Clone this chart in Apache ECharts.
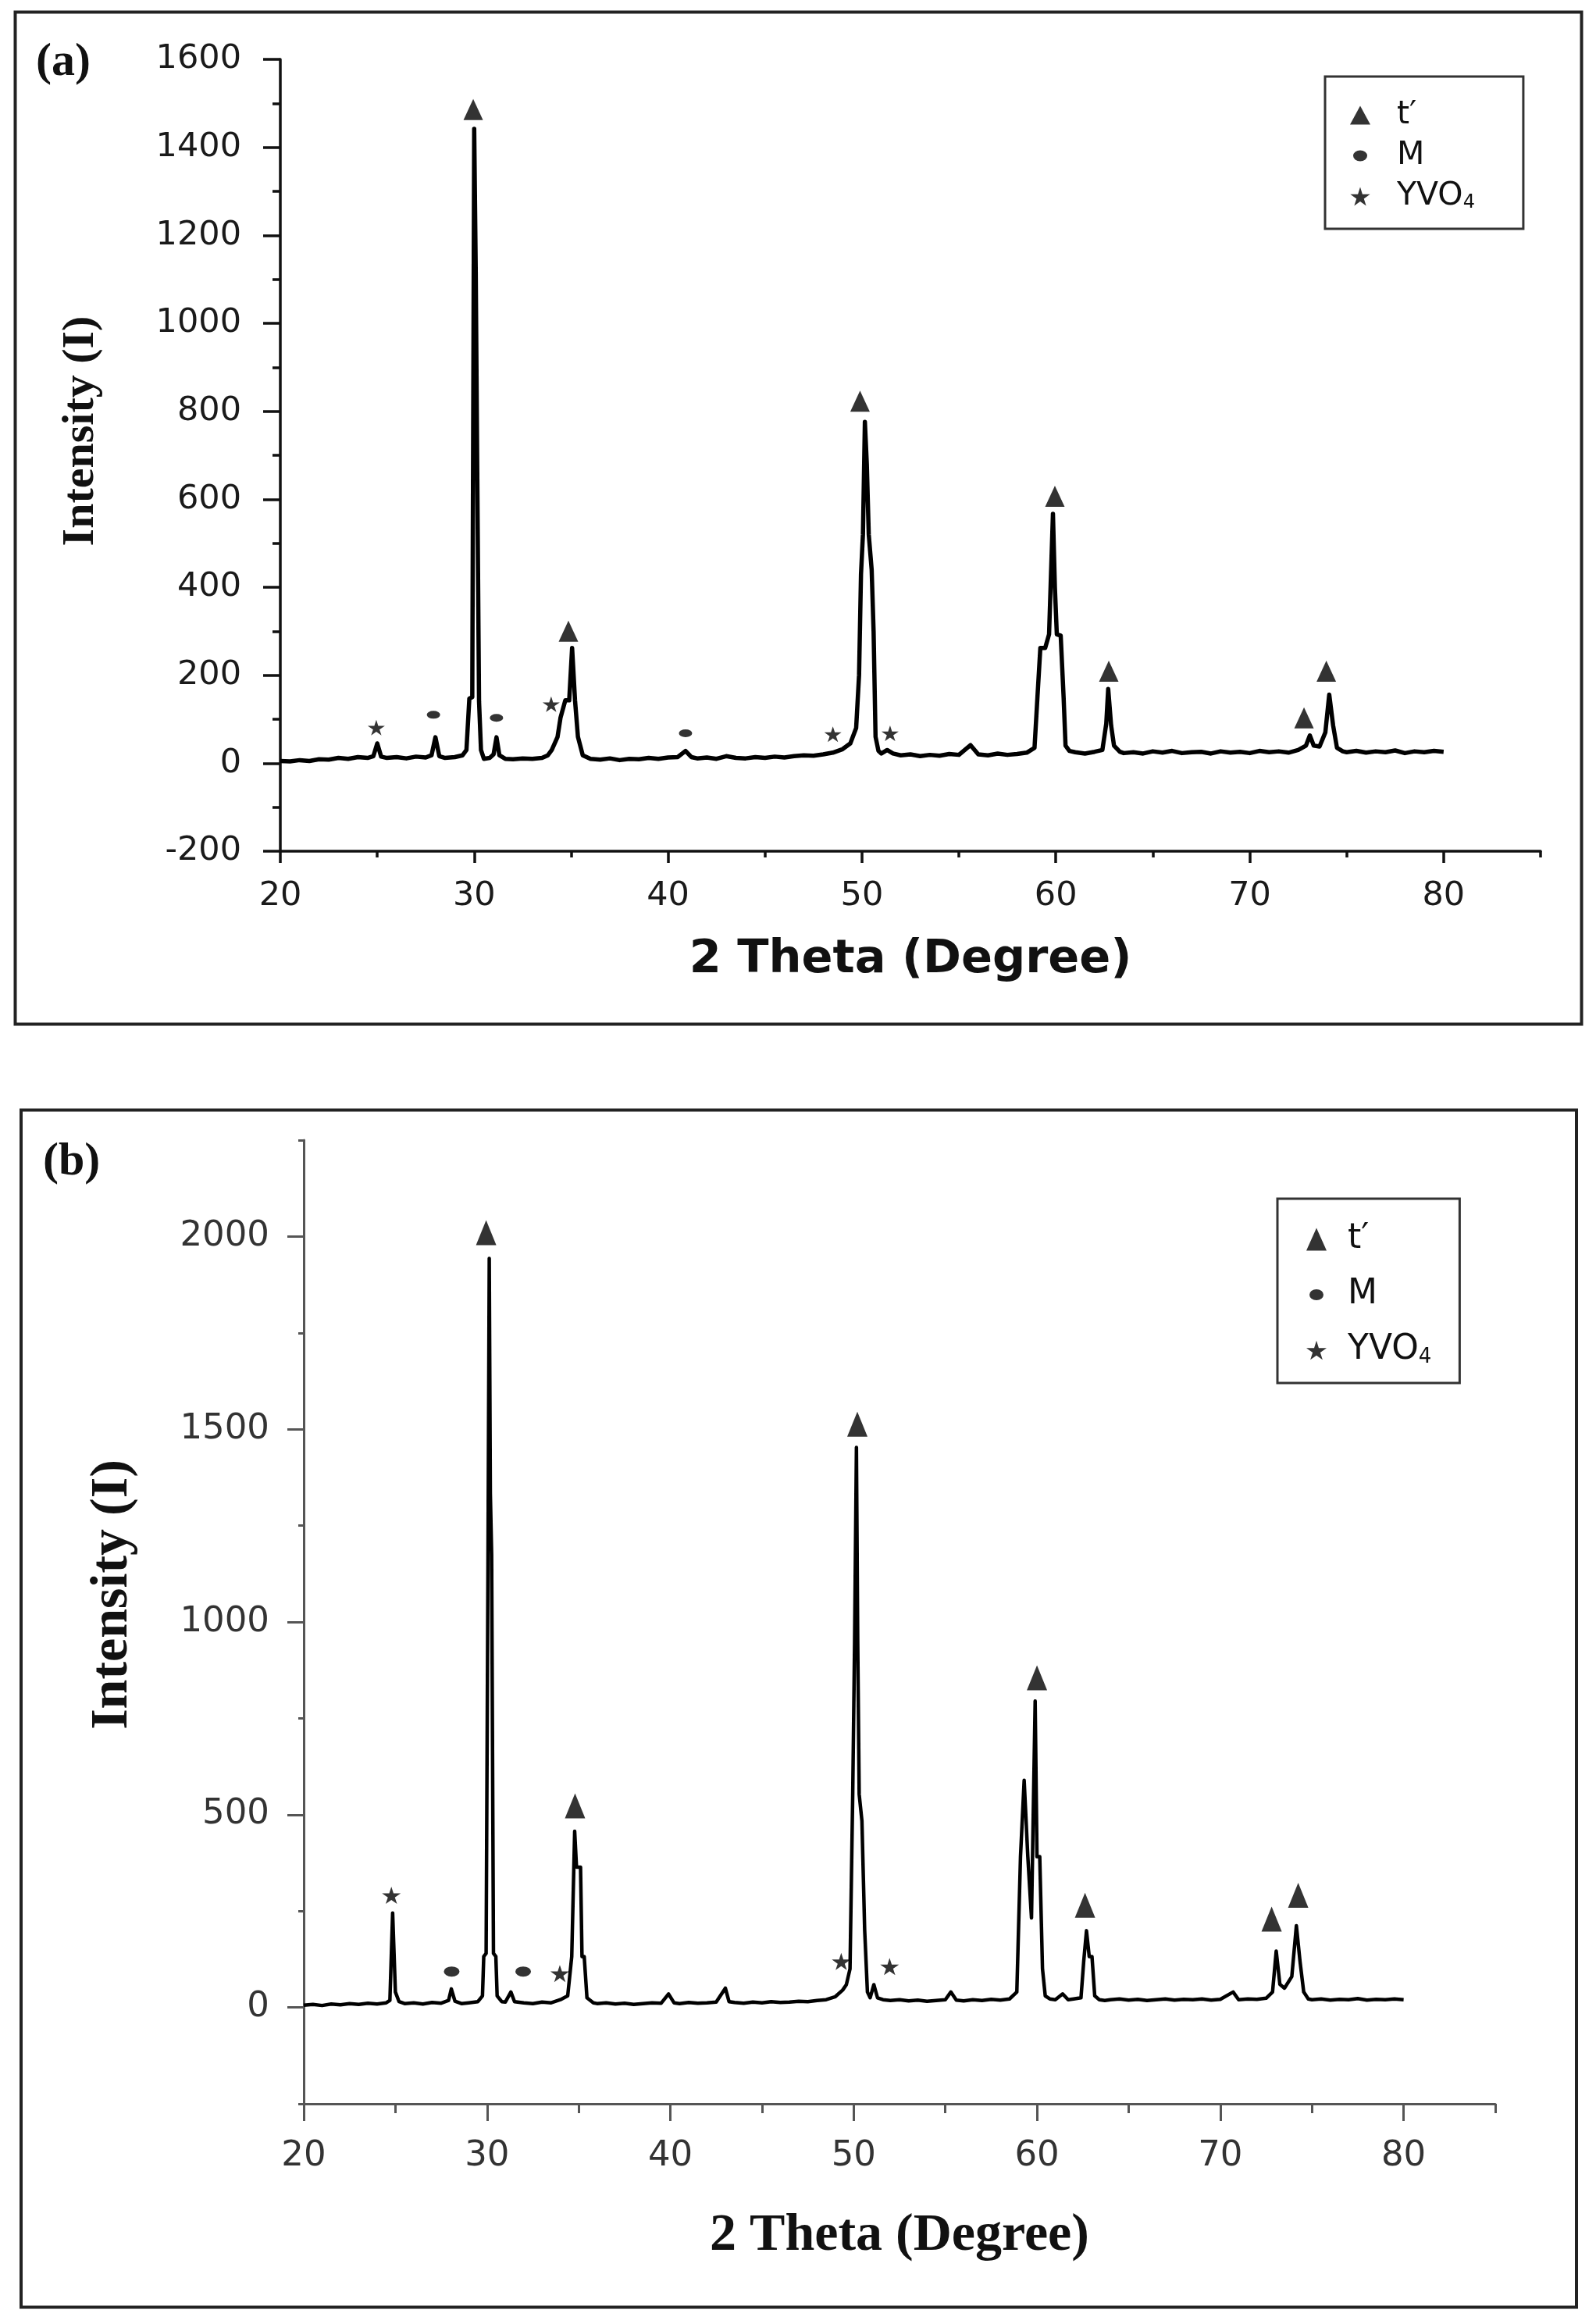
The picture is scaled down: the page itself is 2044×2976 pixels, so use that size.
<!DOCTYPE html>
<html><head><meta charset="utf-8">
<script src="https://cdn.jsdelivr.net/npm/echarts@6/dist/echarts.min.js"></script>
<style>html,body{margin:0;padding:0;background:#fff}#c{width:2044px;height:2976px}</style>
</head><body><div id="c"></div>
<script>
// ---------- Panel (a) data: [2θ, intensity] ----------
const patternA = [
[20.0,5],[20.5,4],[21.0,7],[21.5,5],[22.0,9],[22.5,8],[23.0,12],[23.5,10],[24.0,14],[24.5,12],
[24.8,16],[25.0,45],[25.2,15],[25.5,12],[26.0,14],[26.5,11],[27.0,15],[27.5,13],[27.8,18],[28.0,59],
[28.2,16],[28.5,12],[29.0,14],[29.4,18],[29.6,30],[29.75,147],[29.9,150],[30.0,1442],[30.08,1117],[30.15,704],
[30.25,140],[30.35,30],[30.5,10],[30.8,12],[31.0,20],[31.15,59],[31.3,18],[31.6,10],[32.0,9],[32.5,11],
[33.0,10],[33.5,12],[33.8,18],[34.0,30],[34.3,60],[34.45,103],[34.7,143],[34.9,143],[35.05,262],[35.2,143],
[35.35,60],[35.6,18],[36.0,10],[36.5,8],[37.0,11],[37.5,7],[38.0,10],[38.5,9],[39.0,12],[39.5,10],
[40.0,13],[40.5,14],[40.9,28],[41.2,14],[41.5,11],[42.0,13],[42.5,10],[43.0,16],[43.5,12],[44.0,11],
[44.5,14],[45.0,12],[45.5,15],[46.0,13],[46.5,16],[47.0,18],[47.5,17],[48.0,20],[48.5,24],[49.0,32],
[49.4,45],[49.7,80],[49.85,200],[49.95,430],[50.05,520],[50.15,776],[50.25,680],[50.35,520],[50.5,440],[50.6,300],
[50.7,60],[50.85,28],[51.0,22],[51.3,30],[51.6,22],[52.0,18],[52.5,20],[53.0,16],[53.5,19],[54.0,17],
[54.5,21],[55.0,19],[55.6,41],[56.0,20],[56.5,18],[57.0,22],[57.5,19],[58.0,21],[58.5,24],[58.9,35],
[59.05,150],[59.2,262],[59.45,262],[59.65,293],[59.85,567],[59.95,400],[60.05,293],[60.25,290],[60.4,150],[60.5,40],
[60.7,28],[61.0,25],[61.5,22],[62.0,26],[62.4,30],[62.6,90],[62.7,169],[62.85,86],[63.0,40],[63.3,26],
[63.5,23],[64.0,25],[64.5,22],[65.0,27],[65.5,24],[66.0,28],[66.5,23],[67.0,25],[67.5,26],[68.0,22],
[68.5,27],[69.0,24],[69.5,26],[70.0,23],[70.5,28],[71.0,25],[71.5,27],[72.0,24],[72.5,30],[72.9,40],
[73.1,63],[73.3,40],[73.6,38],[73.9,70],[74.1,156],[74.3,86],[74.5,35],[74.8,27],[75.0,25],[75.5,28],
[76.0,24],[76.5,27],[77.0,25],[77.5,29],[78.0,23],[78.5,27],[79.0,25],[79.5,28],[80.0,26]
];
const tPrimeA = [[29.95,1486],[34.86,300],[49.9,823],[59.95,607],[62.73,209],[72.8,103],[73.95,209]];
const monoA   = [[27.9,110],[31.15,103],[40.9,68]];
const yvoA    = [[24.95,81],[33.97,134],[48.5,66],[51.45,68]];

// ---------- Panel (b) data: [2θ, intensity] ----------
const patternB = [
[20.0,6],[20.5,8],[21.0,5],[21.5,9],[22.0,7],[22.5,10],[23.0,8],[23.5,11],[24.0,9],[24.5,12],
[24.7,18],[24.85,245],[25.0,40],[25.2,15],[25.5,10],[26.0,12],[26.5,9],[27.0,13],[27.5,11],[27.9,18],
[28.05,48],[28.25,16],[28.6,10],[29.0,12],[29.5,15],[29.75,30],[29.82,132],[29.95,140],[30.05,1150],[30.12,1943],
[30.18,1334],[30.25,1175],[30.35,140],[30.48,132],[30.55,30],[30.8,15],[31.0,14],[31.3,40],[31.5,15],[32.0,12],
[32.5,10],[33.0,14],[33.5,12],[34.0,20],[34.4,30],[34.62,132],[34.78,457],[34.88,364],[35.1,364],[35.18,132],
[35.3,132],[35.45,25],[35.8,12],[36.0,10],[36.5,12],[37.0,9],[37.5,11],[38.0,8],[38.5,10],[39.0,12],
[39.5,11],[39.9,35],[40.2,12],[40.5,10],[41.0,13],[41.5,11],[42.0,12],[42.5,14],[43.0,50],[43.2,15],
[43.5,13],[44.0,11],[44.5,14],[45.0,12],[45.5,15],[46.0,13],[46.5,14],[47.0,16],[47.5,15],[48.0,18],
[48.5,20],[49.0,28],[49.4,45],[49.6,59],[49.8,100],[49.95,560],[50.05,950],[50.15,1453],[50.22,950],[50.3,553],
[50.45,484],[50.6,200],[50.75,40],[50.9,25],[51.1,59],[51.3,25],[51.6,20],[52.0,18],[52.5,20],[53.0,17],
[53.5,19],[54.0,16],[54.5,18],[55.0,20],[55.3,40],[55.6,19],[56.0,17],[56.5,20],[57.0,18],[57.5,21],
[58.0,19],[58.5,22],[58.9,40],[59.1,391],[59.3,589],[59.5,391],[59.7,232],[59.9,795],[60.0,391],[60.15,391],
[60.3,100],[60.45,30],[60.7,22],[61.0,20],[61.4,35],[61.7,20],[62.0,22],[62.4,25],[62.55,120],[62.7,199],
[62.85,132],[63.0,132],[63.15,30],[63.4,20],[63.7,18],[64.0,20],[64.5,22],[65.0,19],[65.5,21],[66.0,18],
[66.5,20],[67.0,22],[67.5,19],[68.0,21],[68.5,20],[69.0,22],[69.5,19],[70.0,21],[70.7,40],[71.0,20],
[71.5,22],[72.0,21],[72.5,24],[72.85,40],[73.05,146],[73.25,60],[73.5,50],[73.9,80],[74.15,212],[74.35,119],
[74.55,40],[74.8,22],[75.0,20],[75.5,22],[76.0,19],[76.5,21],[77.0,20],[77.5,23],[78.0,19],[78.5,21],
[79.0,20],[79.5,22],[80.0,20]
];
const tPrimeB = [[29.95,2010],[34.8,523],[50.2,1513],[60.0,855],[62.62,265],[72.8,229],[74.25,291]];
const monoB   = [[28.07,93],[31.97,93]];
const yvoB    = [[24.78,291],[33.97,88],[49.32,119],[51.96,106]];

// ---------- Axis tick values ----------
const xMajorTicks = [20,30,40,50,60,70,80];
const xMinorTicks = [25,35,45,55,65,75,85];
const yLabelsB = [0,500,1000,1500,2000];
const yMinorB = [-250,250,750,1250,1750,2250];

const seriesNames = ['t′','M','YVO4'];

const STAR = 'path://M50,0 L61,35 L98,35 L68,57 L79,91 L50,70 L21,91 L32,57 L2,35 L39,35 Z';
const ELLIPSE = 'path://M0,5 A5,5 0 1 1 10,5 A5,5 0 1 1 0,5 Z';
const LEG_CIRCLE = 'path://M0,0 M26,24 M4,12 A9,7 0 1 1 22,12 A9,7 0 1 1 4,12 Z';

const INK = '#111';
const sans = 'DejaVu Sans';
const serif = 'Liberation Serif';
const plain = function (v) { return String(v); };

function legendFor(left, top, padding, fontSize, itemW, itemH, gap, textPad) {
  return {
    left: left, top: top, orient: 'vertical', selectedMode: false,
    padding: padding, itemGap: gap, itemWidth: itemW, itemHeight: itemH,
    borderColor: '#333', borderWidth: 3, backgroundColor: '#fff',
    data: [
      {name: seriesNames[0], icon: 'triangle'},
      {name: seriesNames[1], icon: LEG_CIRCLE},
      {name: seriesNames[2], icon: STAR}
    ],
    formatter: function (n) { return n === 'YVO4' ? '{n|YVO}{s|4}' : '{n|' + n + '}'; },
    textStyle: {
      color: INK, fontFamily: sans, fontSize: fontSize, padding: [0,0,0,textPad],
      rich: {
        n: {fontFamily: sans, fontSize: fontSize, color: INK},
        s: {fontFamily: sans, fontSize: Math.round(fontSize*0.58), color: INK, verticalAlign: 'bottom'}
      }
    },
    itemStyle: {color: '#000', borderWidth: 0}
  };
}

const chart = echarts.init(document.getElementById('c'), null, {renderer: 'canvas'});
const option = {
  animation: false,
  backgroundColor: '#fff',
  graphic: [
    {type: 'rect', shape: {x: 19.5, y: 15.5, width: 2006, height: 1296}, style: {fill: 'none', stroke: '#222', lineWidth: 4}, z: 0},
    {type: 'rect', shape: {x: 27, y: 1421.5, width: 1992, height: 1533}, style: {fill: 'none', stroke: '#222', lineWidth: 4}, z: 0},
    {type: 'text', left: 46, top: 50, style: {text: '(a)', font: 'bold 60px "Liberation Serif"', fill: INK}},
    {type: 'text', left: 55, top: 1458, style: {text: '(b)', font: 'bold 60px "Liberation Serif"', fill: INK}}
  ],
  legend: [
    legendFor(1697, 98, [29, 62, 21, 32], 41, 26, 24, 11, 29),
    legendFor(1636, 1535, [30, 36, 20, 37], 44, 26, 29, 27, 22)
  ],
  grid: [
    {left: 359, top: 76, width: 1614, height: 1014},
    {left: 389, top: 1460, width: 1526, height: 1234}
  ],
  xAxis: [
    {type: 'value', gridIndex: 0, position: 'bottom', min: 20, max: 85,
     name: '2 Theta (Degree)', nameLocation: 'middle', nameGap: 110,
     nameTextStyle: {fontFamily: sans, fontWeight: 'bold', fontSize: 59, color: INK},
     axisLine: {show: true, onZero: false, lineStyle: {color: INK, width: 3.5}},
     axisTick: {show: true, length: 15, lineStyle: {color: INK, width: 3.5}, customValues: xMajorTicks},
     axisLabel: {customValues: xMajorTicks, formatter: plain, margin: 36, fontFamily: sans, fontSize: 43, color: '#1a1a1a'},
     splitLine: {show: false}},
    {type: 'value', gridIndex: 0, position: 'bottom', offset: 0, min: 20, max: 85,
     axisLine: {show: false, onZero: false},
     axisTick: {show: true, length: 8, lineStyle: {color: INK, width: 3.5}, customValues: xMinorTicks},
     axisLabel: {show: false}, splitLine: {show: false}},
    {type: 'value', gridIndex: 1, position: 'bottom', min: 20, max: 85,
     name: '2 Theta (Degree)', nameLocation: 'middle', nameGap: 135,
     nameTextStyle: {fontFamily: serif, fontWeight: 'bold', fontSize: 68, color: INK},
     axisLine: {show: true, onZero: false, lineStyle: {color: '#555', width: 3}},
     axisTick: {show: true, length: 22, lineStyle: {color: '#555', width: 3}, customValues: xMajorTicks},
     axisLabel: {customValues: xMajorTicks, formatter: plain, margin: 45, fontFamily: sans, fontSize: 45, color: '#333'},
     splitLine: {show: false}},
    {type: 'value', gridIndex: 1, position: 'bottom', offset: 0, min: 20, max: 85,
     axisLine: {show: false, onZero: false},
     axisTick: {show: true, length: 12, lineStyle: {color: '#555', width: 3}, customValues: xMinorTicks},
     axisLabel: {show: false}, splitLine: {show: false}}
  ],
  yAxis: [
    {type: 'value', gridIndex: 0, position: 'left', min: -200, max: 1600, interval: 200,
     name: 'Intensity (I)', nameLocation: 'middle', nameGap: 226, nameRotate: 90,
     nameTextStyle: {fontFamily: serif, fontWeight: 'bold', fontSize: 58, color: INK, padding: [0,0,0,62]},
     axisLine: {show: true, onZero: false, lineStyle: {color: INK, width: 3.5}},
     axisTick: {show: true, length: 22, lineStyle: {color: INK, width: 3.5}},
     minorTick: {show: true, splitNumber: 2, length: 10, lineStyle: {color: INK, width: 3.5}},
     axisLabel: {formatter: plain, margin: 50, fontFamily: sans, fontSize: 43, color: '#1a1a1a'},
     splitLine: {show: false}, minorSplitLine: {show: false}},
    {type: 'value', gridIndex: 1, position: 'left', min: -250, max: 2250,
     name: 'Intensity (I)', nameLocation: 'middle', nameGap: 211, nameRotate: 90,
     nameTextStyle: {fontFamily: serif, fontWeight: 'bold', fontSize: 68, color: INK, padding: [0,0,0,70]},
     axisLine: {show: true, onZero: false, lineStyle: {color: '#555', width: 3}},
     axisTick: {show: true, length: 21, lineStyle: {color: '#555', width: 3}, customValues: yLabelsB},
     axisLabel: {customValues: yLabelsB, formatter: plain, margin: 44, fontFamily: sans, fontSize: 45, color: '#333'},
     splitLine: {show: false}},
    {type: 'value', gridIndex: 1, position: 'left', offset: 0, min: -250, max: 2250,
     axisLine: {show: false, onZero: false},
     axisTick: {show: true, length: 7, lineStyle: {color: '#555', width: 3}, customValues: yMinorB},
     axisLabel: {show: false}, splitLine: {show: false}}
  ],
  series: [
    {type: 'line', xAxisIndex: 0, yAxisIndex: 0, data: patternA, showSymbol: false, symbol: 'none',
     lineStyle: {color: '#000', width: 5.5, join: 'round'}, silent: true, z: 2},
    {type: 'scatter', name: seriesNames[0], xAxisIndex: 0, yAxisIndex: 0, data: tPrimeA, symbol: 'triangle', symbolSize: [25, 27], itemStyle: {color: '#000'}, z: 3},
    {type: 'scatter', name: seriesNames[1], xAxisIndex: 0, yAxisIndex: 0, data: monoA, symbol: ELLIPSE, symbolKeepAspect: false, symbolSize: [17, 10], itemStyle: {color: '#000'}, z: 3},
    {type: 'scatter', name: seriesNames[2], xAxisIndex: 0, yAxisIndex: 0, data: yvoA, symbol: STAR, symbolKeepAspect: false, symbolSize: [22, 20], itemStyle: {color: '#000'}, z: 3},

    {type: 'line', xAxisIndex: 2, yAxisIndex: 1, data: patternB, showSymbol: false, symbol: 'none',
     lineStyle: {color: '#000', width: 4.5, join: 'round'}, silent: true, z: 2},
    {type: 'scatter', name: seriesNames[0], xAxisIndex: 2, yAxisIndex: 1, data: tPrimeB, symbol: 'triangle', symbolSize: [26, 32], itemStyle: {color: '#000'}, z: 3},
    {type: 'scatter', name: seriesNames[1], xAxisIndex: 2, yAxisIndex: 1, data: monoB, symbol: ELLIPSE, symbolKeepAspect: false, symbolSize: [20, 13], itemStyle: {color: '#000'}, z: 3},
    {type: 'scatter', name: seriesNames[2], xAxisIndex: 2, yAxisIndex: 1, data: yvoB, symbol: STAR, symbolKeepAspect: false, symbolSize: [24, 22], itemStyle: {color: '#000'}, z: 3}
  ]
};
chart.setOption(option);
</script></body></html>
